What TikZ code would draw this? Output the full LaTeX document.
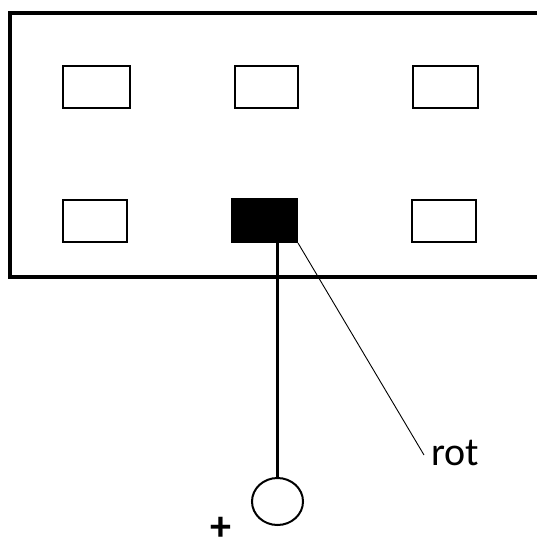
\documentclass[tikz,border=0pt]{standalone}
\usepackage{fontspec}
\setmainfont{Carlito}
\usetikzlibrary{shapes.geometric}
\begin{document}
\begin{tikzpicture}[x=1pt,y=-1pt,
  frame/.style={line width=3.5pt},
  slot/.style={draw,line width=2pt,inner sep=0pt,minimum height=42pt},
  wire/.style={line width=3pt},
  lead/.style={line width=0.9pt},
  lbl/.style={inner sep=0pt,font=\fontsize{40}{48}\selectfont}]
\useasboundingbox (0,0) rectangle (537,543);
\coordinate (tr) at (537,13);
\coordinate (tl) at (10,13);
\coordinate (bl) at (10,277);
\coordinate (br) at (537,277);
\draw[frame,line join=miter] (tr) -- (tl) -- (bl) -- (br);
\node[slot,minimum width=67pt] (r1) at (96.5,87) {};
\node[slot,minimum width=63pt] (r2) at (266.5,87) {};
\node[slot,minimum width=65pt] (r3) at (445.5,87) {};
\node[slot,minimum width=64pt] (r4) at (95,221) {};
\node[slot,minimum width=65pt,minimum height=43pt,fill=black] (r5) at (264.5,220.5) {};
\node[slot,minimum width=64pt] (r6) at (444,221) {};
\node[draw,line width=2pt,ellipse,inner sep=0pt,minimum width=51pt,minimum height=47pt] (pin) at (277.5,501.5) {};
\draw[wire] (r5.south -| pin.north) -- (pin.north);
\coordinate (le) at (424,455);
\draw[lead] (r5.south east) -- (le);
\node[lbl,anchor=base west] (rot) at (431,465) {rot};
\node[lbl,font=\fontsize{42}{48}\selectfont\bfseries] (plus) at (221,529) {+};
\end{tikzpicture}
\end{document}
